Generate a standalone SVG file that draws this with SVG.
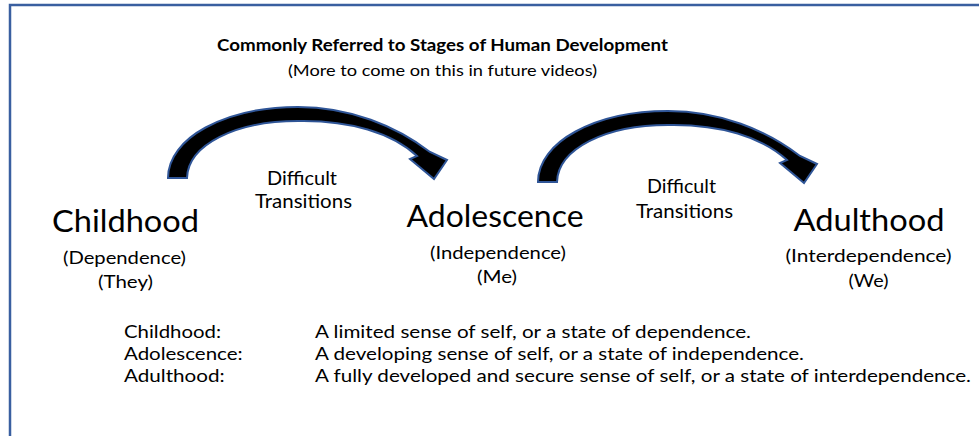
<svg xmlns="http://www.w3.org/2000/svg" width="979" height="436" viewBox="0 0 979 436">
<style>
text{font-family:Lato,"Liberation Sans",Arial,sans-serif;fill:#000}
.t{font-weight:bold;font-size:16.3px}
.sub{font-size:16px}
.big{font-size:30px}
.par{font-size:18.2px}
.dt{font-size:18.6px}
.row{font-size:17px}
.arrow{fill:#000;stroke:#2F5597;stroke-width:2;stroke-linejoin:miter}
</style>
<defs>
<path id="arc" class="arrow" d="M168,178 C168,138 225,107 298,107 C350,107 396,126 430,152 L447,160 L434,179 L410,159 L417,156 C392,133 350,120 298,121 C235,121 188,145 187,178 Z"/>
</defs>
<rect id="frame" x="10" y="5" width="1000" height="500" fill="#fff" stroke="#3A5FA0" stroke-width="2.5"/>
<g id="header">
<text class="t" x="442.5" y="51" text-anchor="middle" textLength="451" lengthAdjust="spacingAndGlyphs">Commonly Referred to Stages of Human Development</text>
<text class="sub" x="442.5" y="76" text-anchor="middle" textLength="309" lengthAdjust="spacingAndGlyphs">(More to come on this in future videos)</text>
</g>
<g id="connectors">
<use href="#arc"/>
<use href="#arc" transform="translate(370,4)"/>
<text class="dt" x="302" y="185" text-anchor="middle" textLength="70" lengthAdjust="spacingAndGlyphs">Difficult</text>
<text class="dt" x="303.5" y="208" text-anchor="middle" textLength="97" lengthAdjust="spacingAndGlyphs">Transitions</text>
<text class="dt" x="681.5" y="193" text-anchor="middle" textLength="69" lengthAdjust="spacingAndGlyphs">Difficult</text>
<text class="dt" x="684.5" y="218" text-anchor="middle" textLength="97" lengthAdjust="spacingAndGlyphs">Transitions</text>
</g>
<g id="childhood">
<text class="big" x="125.5" y="232" text-anchor="middle" textLength="147" lengthAdjust="spacingAndGlyphs">Childhood</text>
<text class="par" x="124.5" y="264" text-anchor="middle" textLength="123" lengthAdjust="spacingAndGlyphs">(Dependence)</text>
<text class="par" x="125.5" y="288" text-anchor="middle" textLength="55" lengthAdjust="spacingAndGlyphs">(They)</text>
</g>
<g id="adolescence">
<text class="big" x="495" y="227" text-anchor="middle" textLength="177" lengthAdjust="spacingAndGlyphs">Adolescence</text>
<text class="par" x="498" y="259" text-anchor="middle" textLength="136" lengthAdjust="spacingAndGlyphs">(Independence)</text>
<text class="par" x="497" y="283" text-anchor="middle" textLength="40" lengthAdjust="spacingAndGlyphs">(Me)</text>
</g>
<g id="adulthood">
<text class="big" x="869" y="231" text-anchor="middle" textLength="151" lengthAdjust="spacingAndGlyphs">Adulthood</text>
<text class="par" x="868.5" y="262" text-anchor="middle" textLength="166" lengthAdjust="spacingAndGlyphs">(Interdependence)</text>
<text class="par" x="868.5" y="287" text-anchor="middle" textLength="40" lengthAdjust="spacingAndGlyphs">(We)</text>
</g>
<g id="definitions">
<text class="row" x="124" y="338" textLength="97" lengthAdjust="spacingAndGlyphs">Childhood:</text>
<text class="row" x="124" y="360" textLength="118.6" lengthAdjust="spacingAndGlyphs">Adolescence:</text>
<text class="row" x="124" y="382" textLength="100.6" lengthAdjust="spacingAndGlyphs">Adulthood:</text>
<text class="row" x="315" y="338" textLength="436" lengthAdjust="spacingAndGlyphs">A limited sense of self, or a state of dependence.</text>
<text class="row" x="315" y="360" textLength="489" lengthAdjust="spacingAndGlyphs">A developing sense of self, or a state of independence.</text>
<text class="row" x="315" y="382" textLength="656" lengthAdjust="spacingAndGlyphs">A fully developed and secure sense of self, or a state of interdependence.</text>
</g>
</svg>
